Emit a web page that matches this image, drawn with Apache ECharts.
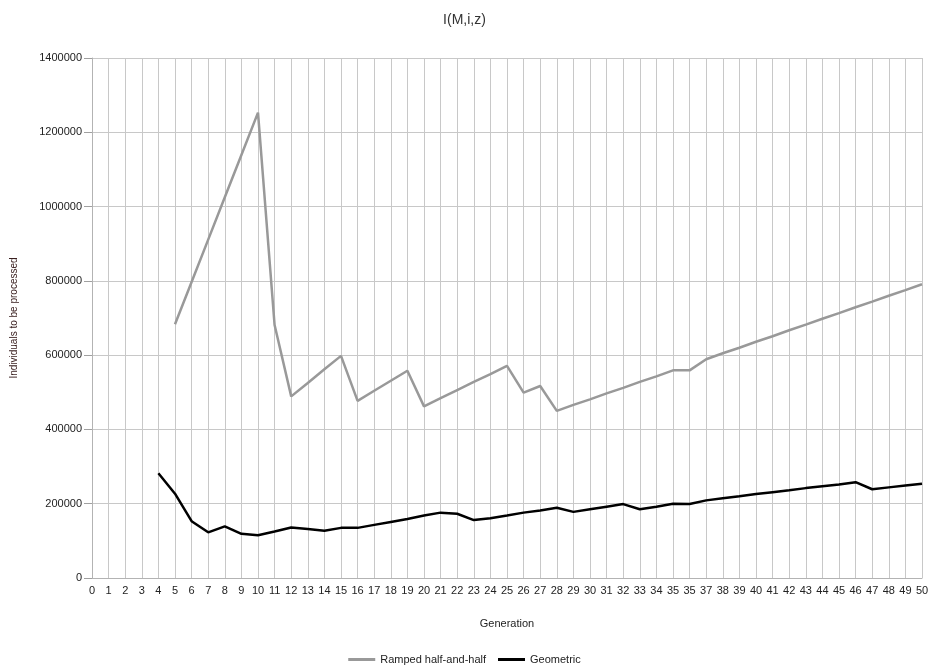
<!DOCTYPE html>
<html>
<head>
<meta charset="utf-8">
<script src="https://cdn.jsdelivr.net/npm/echarts@6/dist/echarts.min.js"></script>
<style>html,body{margin:0;padding:0;background:#fff;}#c{width:929px;height:666px;}</style>
</head>
<body>
<div id="c"></div>
<script>
const categories = ['0','1','2','3','4','5','6','7','8','9','10','11','12','13','14','15','16','17','18','19','20','21','22','23','24','25','26','27','28','29','30','31','32','33','34','35','35','37','38','39','40','41','42','43','44','45','46','47','48','49','50'];
const ramped = [null,null,null,null,null,
  683000,797000,911000,1025000,1139000,1253000,
  681000,489000,525000,562000,598000,
  477000,504000,531000,558000,
  462000,484000,506000,528000,549000,571000,
  499000,517000,450000,
  466000,481000,497000,512000,528000,543000,559000,559000,
  589000,605000,620000,636000,651000,667000,682000,698000,713000,729000,744000,760000,775000,791000];
const geometric = [null,null,null,null,
  282000,227000,153000,123000,139000,119000,115000,125000,136000,132000,127000,135000,135000,
  143000,151000,159000,168000,176000,173000,156000,161000,168000,176000,182000,189000,
  178000,185000,192000,199000,185000,192000,200000,199000,
  209000,215000,220000,226000,231000,236000,242000,247000,252000,258000,
  239000,244000,249000,254000];
const yTicks = {min: 0, max: 1400000, interval: 200000};

const chart = echarts.init(document.getElementById('c'));
const font = 'Liberation Sans, Arial, sans-serif';
chart.setOption({
  animation: false,
  backgroundColor: '#fff',
  title: {
    text: 'I(M,i,z)', left: 'center', top: 8,
    textStyle: {fontFamily: font, fontSize: 14, fontWeight: 'normal', color: '#333'}
  },
  legend: {
    bottom: 1, padding: 0, itemWidth: 27, itemHeight: 3, itemGap: 12, icon: 'rect',
    textStyle: {fontFamily: font, fontSize: 11, color: '#222'},
    data: ['Ramped half-and-half', 'Geometric']
  },
  grid: {left: 92, right: 7, top: 58, bottom: 88, outerBoundsMode: 'none', containLabel: false},
  xAxis: {
    type: 'category', data: categories, boundaryGap: false,
    name: 'Generation', nameLocation: 'middle', nameGap: 40,
    nameTextStyle: {fontFamily: font, fontSize: 11, color: '#222'},
    axisLine: {show: true, lineStyle: {color: '#b3b3b3', width: 1}},
    axisTick: {show: false},
    axisLabel: {interval: 0, fontFamily: font, fontSize: 11, color: '#222', margin: 7},
    splitLine: {show: true, interval: 0, lineStyle: {color: '#c8c8c8', width: 1}}
  },
  yAxis: {
    type: 'value', min: yTicks.min, max: yTicks.max, interval: yTicks.interval,
    name: 'Individuals to be processed', nameLocation: 'middle', nameGap: 73, nameRotate: 90,
    nameTextStyle: {fontFamily: font, fontSize: 10, color: '#3a2020'},
    axisLine: {show: true, lineStyle: {color: '#b3b3b3', width: 1}},
    axisTick: {show: true, length: 8, lineStyle: {color: '#a0a0a0'}},
    axisLabel: {fontFamily: font, fontSize: 11, color: '#222', margin: 10,
      formatter: function (v) { return String(v); }},
    splitLine: {show: true, lineStyle: {color: '#c8c8c8', width: 1}}
  },
  series: [
    {name: 'Ramped half-and-half', type: 'line', data: ramped, showSymbol: false, symbol: 'none',
     lineStyle: {color: '#999999', width: 2.5}, itemStyle: {color: '#999999'}, connectNulls: false},
    {name: 'Geometric', type: 'line', data: geometric, showSymbol: false, symbol: 'none',
     lineStyle: {color: '#000000', width: 2.5}, itemStyle: {color: '#000000'}}
  ]
});
</script>
</body>
</html>
